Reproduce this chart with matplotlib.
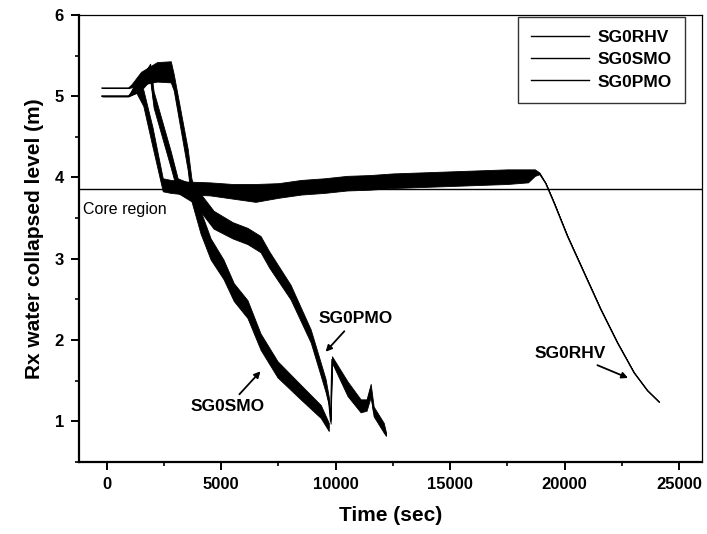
import matplotlib
matplotlib.use("Agg")
import matplotlib.pyplot as plt
import numpy as np
from matplotlib.ticker import MultipleLocator

# Rx water collapsed level for three SG cases (time in s, level in m, +/- noise spread)
t_rhv = [-200, 960, 1300, 1600, 2000, 2450, 2800, 3500, 4500, 5500, 6500, 7500, 8500,
         9500, 10500, 11500, 12500, 13500, 14500, 15500, 16500, 17500, 18400, 18700,
         18900, 19170, 19535, 20120, 20846, 21573, 22300, 23027, 23610, 24118]
lvl_rhv = [5.00, 5.00, 5.12, 4.98, 4.50, 3.91, 3.89, 3.87, 3.86, 3.83, 3.81, 3.84, 3.88,
           3.90, 3.93, 3.94, 3.96, 3.97, 3.98, 3.99, 4.00, 4.01, 4.02, 4.06,
           4.05, 3.93, 3.69, 3.28, 2.83, 2.38, 1.97, 1.60, 1.38, 1.24]
spr_rhv = [0.0, 0.0, 0.08, 0.10, 0.12, 0.08, 0.08, 0.08, 0.08, 0.09, 0.11, 0.09, 0.09,
           0.09, 0.09, 0.09, 0.09, 0.09, 0.09, 0.09, 0.09, 0.09, 0.08, 0.04,
           0.01, 0.0, 0.0, 0.0, 0.0, 0.0, 0.0, 0.0, 0.0, 0.0]

t_smo = [-200, 960, 1500, 2200, 2800, 2930, 3540, 3700, 4100, 4540, 5100, 5550, 6150,
         6720, 7460, 8470, 9350, 9700]
lvl_smo = [5.10, 5.10, 5.22, 5.30, 5.30, 5.17, 4.22, 3.85, 3.45, 3.12, 2.87, 2.59, 2.38,
           1.98, 1.64, 1.36, 1.12, 0.93]
spr_smo = [0.0, 0.0, 0.08, 0.12, 0.13, 0.10, 0.13, 0.14, 0.14, 0.13, 0.12, 0.11, 0.11,
           0.10, 0.10, 0.09, 0.08, 0.05]

t_pmo = [-200, 960, 1500, 1900, 2050, 2800, 3100, 3800, 4670, 5500, 6150, 6720, 7100,
         8030, 8910, 9210, 9560, 9700, 9780, 9840, 10520, 11090, 11350, 11530, 11660,
         12100, 12200]
lvl_pmo = [5.00, 5.00, 5.15, 5.30, 4.96, 4.22, 3.90, 3.80, 3.48, 3.35, 3.28, 3.18, 2.99,
           2.59, 2.05, 1.77, 1.44, 1.25, 1.00, 1.76, 1.40, 1.19, 1.20, 1.38, 1.12,
           0.92, 0.84]
spr_pmo = [0.0, 0.0, 0.08, 0.10, 0.10, 0.10, 0.09, 0.11, 0.11, 0.10, 0.10, 0.10, 0.10,
           0.09, 0.08, 0.08, 0.08, 0.05, 0.03, 0.04, 0.09, 0.08, 0.07, 0.08, 0.06,
           0.06, 0.02]

core_level = 3.86

plt.rcParams["font.family"] = ["Liberation Sans", "DejaVu Sans"]

fig = plt.figure(figsize=(7.07, 5.34), dpi=100)
ax = fig.add_axes([0.112, 0.135, 0.881, 0.837])

series = [("SG0RHV", t_rhv, lvl_rhv, spr_rhv),
          ("SG0SMO", t_smo, lvl_smo, spr_smo),
          ("SG0PMO", t_pmo, lvl_pmo, spr_pmo)]
for name, t, lvl, spr in series:
    t = np.array(t, dtype=float)
    lvl = np.array(lvl)
    spr = np.array(spr)
    ax.fill_between(t, lvl - spr, lvl + spr, color="black", lw=0.6)
    ax.plot(t, lvl, color="black", lw=1.0, label=name)

# core region boundary
ax.axhline(core_level, color="black", lw=1.0)
ax.text(-1050, 3.61, "Core region", fontsize=11.5, ha="left", va="center")

# case labels with arrows
arrow = dict(arrowstyle="-|>", color="black", lw=1.3, mutation_scale=9)
lbl = dict(fontsize=12.5, fontweight="bold", ha="center", va="center")
ax.annotate("SG0PMO", xy=(9480, 1.83), xytext=(10870, 2.26), arrowprops=arrow, **lbl)
ax.annotate("SG0SMO", xy=(6800, 1.64), xytext=(5300, 1.18), arrowprops=arrow, **lbl)
ax.annotate("SG0RHV", xy=(22880, 1.52), xytext=(20240, 1.83), arrowprops=arrow, **lbl)

ax.set_xlim(-1200, 26000)
ax.set_ylim(0.5, 6)
ax.xaxis.set_major_locator(MultipleLocator(5000))
ax.xaxis.set_minor_locator(MultipleLocator(2500))
ax.yaxis.set_major_locator(MultipleLocator(1))
ax.yaxis.set_minor_locator(MultipleLocator(0.5))
ax.tick_params(which="major", direction="out", length=6, width=1.4, labelsize=12, pad=5)
ax.tick_params(which="minor", direction="out", length=3, width=1.2)
for lab in ax.get_xticklabels() + ax.get_yticklabels():
    lab.set_fontweight("bold")

for side in ("left", "bottom"):
    ax.spines[side].set_linewidth(1.6)
for side in ("top", "right"):
    ax.spines[side].set_linewidth(0.9)

ax.set_xlabel("Time (sec)", fontsize=15, fontweight="bold", labelpad=10)
ax.set_ylabel("Rx water collapsed level (m)", fontsize=15, fontweight="bold", labelpad=8)

leg = ax.legend(loc="upper right", bbox_to_anchor=(0.972, 0.995), borderaxespad=0,
                handlelength=3.3, frameon=True, fancybox=False,
                labelspacing=0.4, handletextpad=0.5, borderpad=0.75,
                prop=dict(weight="bold", size=12.5))
leg.get_frame().set_edgecolor("black")
leg.get_frame().set_linewidth(1.0)

fig.savefig("out.png", dpi=100)
